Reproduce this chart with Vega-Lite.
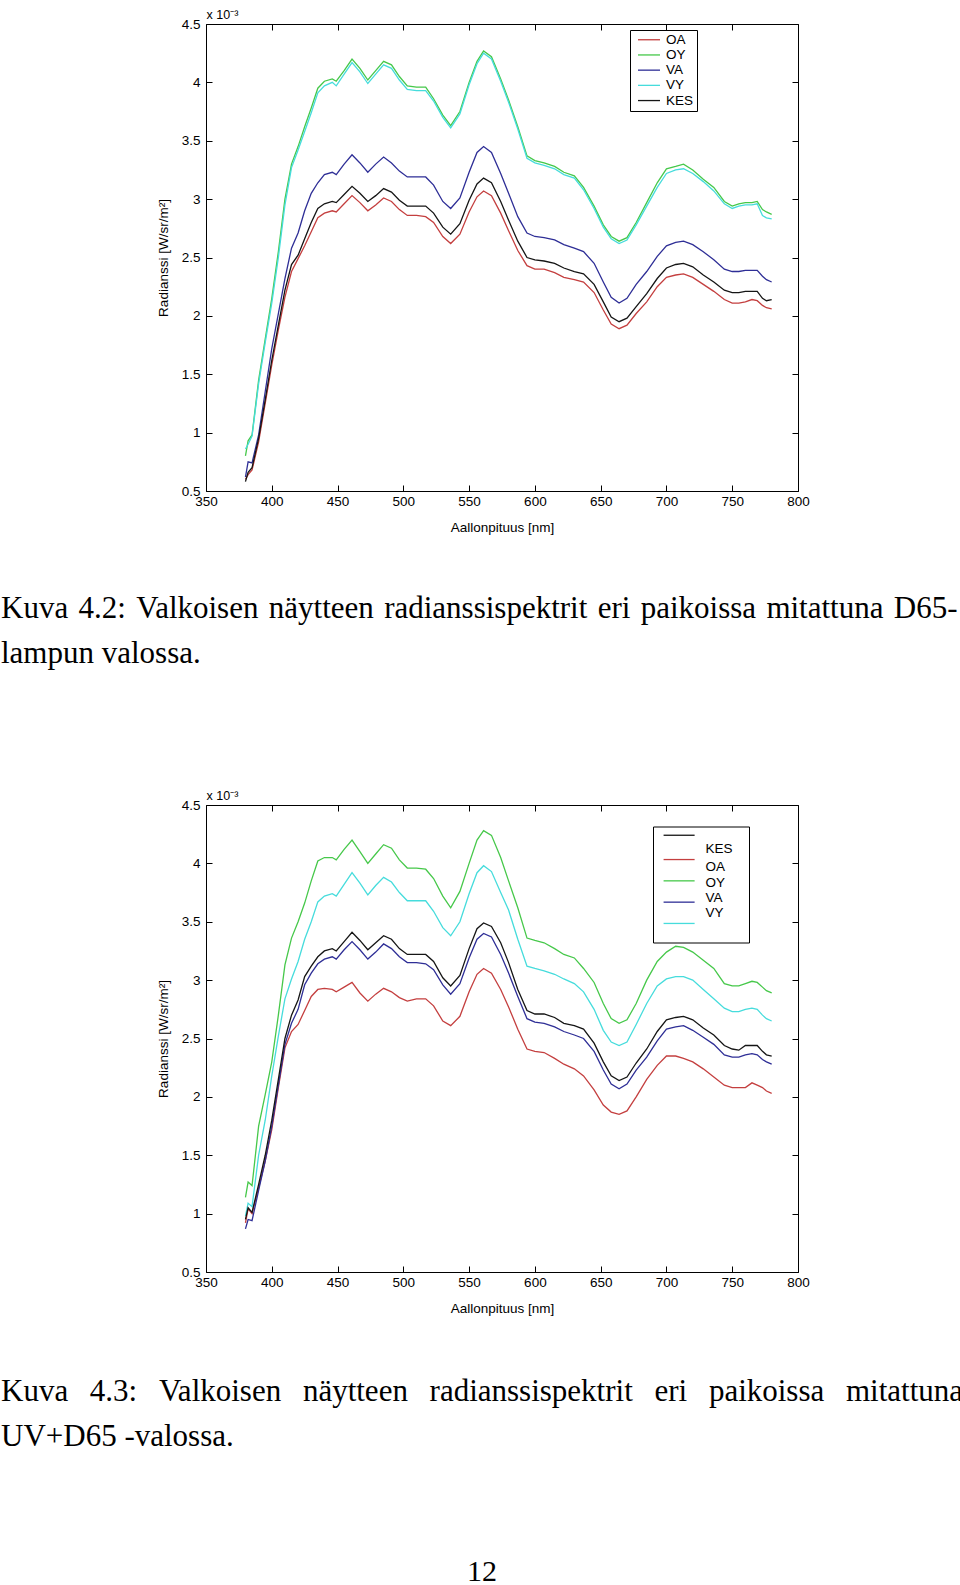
{
  "$schema": "https://vega.github.io/schema/vega-lite/v6.json",
  "background": "white",
  "padding": {"left": 0, "top": 7, "right": 0, "bottom": 0},
  "autosize": {"type": "pad"},
  "config": {
    "view": {"stroke": "black", "strokeWidth": 1},
    "axis": {"domain": false, "grid": false, "tickSize": -6, "tickColor": "black", "tickWidth": 1,
      "labelFont": "Liberation Sans", "labelFontSize": 13.5, "labelColor": "black", "labelFlush": false, "labelOverlap": false,
      "titleFont": "Liberation Sans", "titleFontSize": 13.5, "titleFontWeight": "normal", "titleColor": "black"},
    "legend": {"title": null, "labelFont": "Liberation Sans", "labelFontSize": 13.5, "labelColor": "black",
      "strokeColor": "black", "fillColor": "white", "symbolStrokeWidth": 1.3, "labelLimit": 0},
    "title": {"font": "Liberation Serif", "fontWeight": "normal", "color": "black", "fontSize": 31, "limit": 2000}
  },
  "title": {"text": "12", "orient": "bottom", "anchor": "middle", "frame": "bounds", "offset": 104, "fontSize": 30},
  "spacing": 314,
  "bounds": "flush",
  "resolve": {"scale": {"color": "independent"}},
  "datasets": {
    "c1": [
{"s":"OA","nm":380,"v":0.60},{"s":"OA","nm":382,"v":0.64},{"s":"OA","nm":385,"v":0.68},{"s":"OA","nm":390,"v":0.92},{"s":"OA","nm":395,"v":1.25},{"s":"OA","nm":400,"v":1.58},{"s":"OA","nm":405,"v":1.88},{"s":"OA","nm":410,"v":2.16},{"s":"OA","nm":415,"v":2.38},{"s":"OA","nm":420,"v":2.49},
{"s":"OA","nm":425,"v":2.60},{"s":"OA","nm":430,"v":2.72},{"s":"OA","nm":435,"v":2.84},{"s":"OA","nm":440,"v":2.88},{"s":"OA","nm":446,"v":2.90},{"s":"OA","nm":449,"v":2.89},{"s":"OA","nm":455,"v":2.96},{"s":"OA","nm":461,"v":3.03},{"s":"OA","nm":467,"v":2.97},{"s":"OA","nm":473,"v":2.90},
{"s":"OA","nm":479,"v":2.95},{"s":"OA","nm":485,"v":3.01},{"s":"OA","nm":491,"v":2.98},{"s":"OA","nm":497,"v":2.91},{"s":"OA","nm":503,"v":2.86},{"s":"OA","nm":510,"v":2.86},{"s":"OA","nm":517,"v":2.85},{"s":"OA","nm":523,"v":2.80},{"s":"OA","nm":530,"v":2.68},{"s":"OA","nm":536,"v":2.62},
{"s":"OA","nm":543,"v":2.70},{"s":"OA","nm":550,"v":2.89},{"s":"OA","nm":556,"v":3.02},{"s":"OA","nm":561,"v":3.07},{"s":"OA","nm":567,"v":3.03},{"s":"OA","nm":574,"v":2.88},{"s":"OA","nm":580,"v":2.73},{"s":"OA","nm":587,"v":2.56},{"s":"OA","nm":594,"v":2.43},{"s":"OA","nm":600,"v":2.40},
{"s":"OA","nm":607,"v":2.40},{"s":"OA","nm":615,"v":2.37},{"s":"OA","nm":622,"v":2.33},{"s":"OA","nm":630,"v":2.31},{"s":"OA","nm":637,"v":2.29},{"s":"OA","nm":645,"v":2.20},{"s":"OA","nm":652,"v":2.05},{"s":"OA","nm":658,"v":1.93},{"s":"OA","nm":664,"v":1.89},{"s":"OA","nm":670,"v":1.92},
{"s":"OA","nm":677,"v":2.02},{"s":"OA","nm":685,"v":2.12},{"s":"OA","nm":693,"v":2.25},{"s":"OA","nm":700,"v":2.33},{"s":"OA","nm":707,"v":2.35},{"s":"OA","nm":713,"v":2.36},{"s":"OA","nm":720,"v":2.33},{"s":"OA","nm":728,"v":2.27},{"s":"OA","nm":736,"v":2.21},{"s":"OA","nm":744,"v":2.14},
{"s":"OA","nm":750,"v":2.11},{"s":"OA","nm":755,"v":2.11},{"s":"OA","nm":760,"v":2.12},{"s":"OA","nm":765,"v":2.14},{"s":"OA","nm":769,"v":2.13},{"s":"OA","nm":773,"v":2.09},{"s":"OA","nm":776,"v":2.07},{"s":"OA","nm":780,"v":2.06},
{"s":"OY","nm":380,"v":0.80},{"s":"OY","nm":382,"v":0.93},{"s":"OY","nm":385,"v":0.98},{"s":"OY","nm":390,"v":1.45},{"s":"OY","nm":395,"v":1.80},{"s":"OY","nm":400,"v":2.15},{"s":"OY","nm":405,"v":2.55},{"s":"OY","nm":410,"v":3.00},{"s":"OY","nm":415,"v":3.30},{"s":"OY","nm":420,"v":3.45},
{"s":"OY","nm":425,"v":3.62},{"s":"OY","nm":430,"v":3.78},{"s":"OY","nm":435,"v":3.95},{"s":"OY","nm":440,"v":4.01},{"s":"OY","nm":446,"v":4.03},{"s":"OY","nm":449,"v":4.01},{"s":"OY","nm":455,"v":4.10},{"s":"OY","nm":461,"v":4.20},{"s":"OY","nm":467,"v":4.12},{"s":"OY","nm":473,"v":4.02},
{"s":"OY","nm":479,"v":4.10},{"s":"OY","nm":485,"v":4.18},{"s":"OY","nm":491,"v":4.15},{"s":"OY","nm":497,"v":4.05},{"s":"OY","nm":503,"v":3.97},{"s":"OY","nm":510,"v":3.96},{"s":"OY","nm":517,"v":3.96},{"s":"OY","nm":523,"v":3.86},{"s":"OY","nm":530,"v":3.72},{"s":"OY","nm":536,"v":3.63},
{"s":"OY","nm":543,"v":3.75},{"s":"OY","nm":550,"v":4.00},{"s":"OY","nm":556,"v":4.18},{"s":"OY","nm":561,"v":4.27},{"s":"OY","nm":567,"v":4.22},{"s":"OY","nm":574,"v":4.03},{"s":"OY","nm":580,"v":3.85},{"s":"OY","nm":587,"v":3.62},{"s":"OY","nm":594,"v":3.37},{"s":"OY","nm":600,"v":3.33},
{"s":"OY","nm":607,"v":3.31},{"s":"OY","nm":615,"v":3.28},{"s":"OY","nm":622,"v":3.23},{"s":"OY","nm":630,"v":3.20},{"s":"OY","nm":637,"v":3.10},{"s":"OY","nm":645,"v":2.94},{"s":"OY","nm":652,"v":2.78},{"s":"OY","nm":658,"v":2.68},{"s":"OY","nm":664,"v":2.64},{"s":"OY","nm":670,"v":2.67},
{"s":"OY","nm":677,"v":2.80},{"s":"OY","nm":685,"v":2.97},{"s":"OY","nm":693,"v":3.14},{"s":"OY","nm":700,"v":3.26},{"s":"OY","nm":707,"v":3.28},{"s":"OY","nm":713,"v":3.30},{"s":"OY","nm":720,"v":3.25},{"s":"OY","nm":728,"v":3.17},{"s":"OY","nm":736,"v":3.10},{"s":"OY","nm":744,"v":2.98},
{"s":"OY","nm":750,"v":2.94},{"s":"OY","nm":755,"v":2.96},{"s":"OY","nm":760,"v":2.97},{"s":"OY","nm":765,"v":2.97},{"s":"OY","nm":769,"v":2.98},{"s":"OY","nm":773,"v":2.91},{"s":"OY","nm":776,"v":2.89},{"s":"OY","nm":780,"v":2.87},
{"s":"VA","nm":380,"v":0.62},{"s":"VA","nm":382,"v":0.75},{"s":"VA","nm":385,"v":0.74},{"s":"VA","nm":390,"v":0.98},{"s":"VA","nm":395,"v":1.35},{"s":"VA","nm":400,"v":1.72},{"s":"VA","nm":405,"v":2.02},{"s":"VA","nm":410,"v":2.32},{"s":"VA","nm":415,"v":2.58},{"s":"VA","nm":420,"v":2.71},
{"s":"VA","nm":425,"v":2.90},{"s":"VA","nm":430,"v":3.05},{"s":"VA","nm":435,"v":3.14},{"s":"VA","nm":440,"v":3.21},{"s":"VA","nm":446,"v":3.23},{"s":"VA","nm":449,"v":3.21},{"s":"VA","nm":455,"v":3.30},{"s":"VA","nm":461,"v":3.38},{"s":"VA","nm":467,"v":3.31},{"s":"VA","nm":473,"v":3.23},
{"s":"VA","nm":479,"v":3.30},{"s":"VA","nm":485,"v":3.36},{"s":"VA","nm":491,"v":3.31},{"s":"VA","nm":497,"v":3.24},{"s":"VA","nm":503,"v":3.19},{"s":"VA","nm":510,"v":3.19},{"s":"VA","nm":517,"v":3.19},{"s":"VA","nm":523,"v":3.12},{"s":"VA","nm":530,"v":2.98},{"s":"VA","nm":536,"v":2.92},
{"s":"VA","nm":543,"v":3.01},{"s":"VA","nm":550,"v":3.23},{"s":"VA","nm":556,"v":3.40},{"s":"VA","nm":561,"v":3.45},{"s":"VA","nm":567,"v":3.40},{"s":"VA","nm":574,"v":3.22},{"s":"VA","nm":580,"v":3.05},{"s":"VA","nm":587,"v":2.85},{"s":"VA","nm":594,"v":2.71},{"s":"VA","nm":600,"v":2.68},
{"s":"VA","nm":607,"v":2.67},{"s":"VA","nm":615,"v":2.65},{"s":"VA","nm":622,"v":2.61},{"s":"VA","nm":630,"v":2.58},{"s":"VA","nm":637,"v":2.55},{"s":"VA","nm":645,"v":2.45},{"s":"VA","nm":652,"v":2.29},{"s":"VA","nm":658,"v":2.16},{"s":"VA","nm":664,"v":2.11},{"s":"VA","nm":670,"v":2.15},
{"s":"VA","nm":677,"v":2.27},{"s":"VA","nm":685,"v":2.38},{"s":"VA","nm":693,"v":2.51},{"s":"VA","nm":700,"v":2.60},{"s":"VA","nm":707,"v":2.63},{"s":"VA","nm":713,"v":2.64},{"s":"VA","nm":720,"v":2.61},{"s":"VA","nm":728,"v":2.55},{"s":"VA","nm":736,"v":2.48},{"s":"VA","nm":744,"v":2.40},
{"s":"VA","nm":750,"v":2.38},{"s":"VA","nm":755,"v":2.38},{"s":"VA","nm":760,"v":2.39},{"s":"VA","nm":765,"v":2.39},{"s":"VA","nm":769,"v":2.39},{"s":"VA","nm":773,"v":2.34},{"s":"VA","nm":776,"v":2.31},{"s":"VA","nm":780,"v":2.29},
{"s":"VY","nm":380,"v":0.86},{"s":"VY","nm":382,"v":0.90},{"s":"VY","nm":385,"v":0.97},{"s":"VY","nm":390,"v":1.42},{"s":"VY","nm":395,"v":1.77},{"s":"VY","nm":400,"v":2.11},{"s":"VY","nm":405,"v":2.50},{"s":"VY","nm":410,"v":2.95},{"s":"VY","nm":415,"v":3.27},{"s":"VY","nm":420,"v":3.42},
{"s":"VY","nm":425,"v":3.58},{"s":"VY","nm":430,"v":3.74},{"s":"VY","nm":435,"v":3.91},{"s":"VY","nm":440,"v":3.97},{"s":"VY","nm":446,"v":4.00},{"s":"VY","nm":449,"v":3.97},{"s":"VY","nm":455,"v":4.07},{"s":"VY","nm":461,"v":4.17},{"s":"VY","nm":467,"v":4.09},{"s":"VY","nm":473,"v":3.99},
{"s":"VY","nm":479,"v":4.07},{"s":"VY","nm":485,"v":4.15},{"s":"VY","nm":491,"v":4.12},{"s":"VY","nm":497,"v":4.02},{"s":"VY","nm":503,"v":3.94},{"s":"VY","nm":510,"v":3.93},{"s":"VY","nm":517,"v":3.93},{"s":"VY","nm":523,"v":3.84},{"s":"VY","nm":530,"v":3.70},{"s":"VY","nm":536,"v":3.61},
{"s":"VY","nm":543,"v":3.73},{"s":"VY","nm":550,"v":3.98},{"s":"VY","nm":556,"v":4.16},{"s":"VY","nm":561,"v":4.25},{"s":"VY","nm":567,"v":4.20},{"s":"VY","nm":574,"v":4.01},{"s":"VY","nm":580,"v":3.83},{"s":"VY","nm":587,"v":3.60},{"s":"VY","nm":594,"v":3.35},{"s":"VY","nm":600,"v":3.31},
{"s":"VY","nm":607,"v":3.29},{"s":"VY","nm":615,"v":3.26},{"s":"VY","nm":622,"v":3.21},{"s":"VY","nm":630,"v":3.18},{"s":"VY","nm":637,"v":3.08},{"s":"VY","nm":645,"v":2.92},{"s":"VY","nm":652,"v":2.76},{"s":"VY","nm":658,"v":2.66},{"s":"VY","nm":664,"v":2.62},{"s":"VY","nm":670,"v":2.65},
{"s":"VY","nm":677,"v":2.78},{"s":"VY","nm":685,"v":2.94},{"s":"VY","nm":693,"v":3.10},{"s":"VY","nm":700,"v":3.22},{"s":"VY","nm":707,"v":3.25},{"s":"VY","nm":713,"v":3.26},{"s":"VY","nm":720,"v":3.22},{"s":"VY","nm":728,"v":3.15},{"s":"VY","nm":736,"v":3.07},{"s":"VY","nm":744,"v":2.96},
{"s":"VY","nm":750,"v":2.92},{"s":"VY","nm":755,"v":2.94},{"s":"VY","nm":760,"v":2.95},{"s":"VY","nm":765,"v":2.95},{"s":"VY","nm":769,"v":2.96},{"s":"VY","nm":773,"v":2.86},{"s":"VY","nm":776,"v":2.84},{"s":"VY","nm":780,"v":2.83},
{"s":"KES","nm":380,"v":0.58},{"s":"KES","nm":382,"v":0.66},{"s":"KES","nm":385,"v":0.70},{"s":"KES","nm":390,"v":0.95},{"s":"KES","nm":395,"v":1.28},{"s":"KES","nm":400,"v":1.62},{"s":"KES","nm":405,"v":1.92},{"s":"KES","nm":410,"v":2.22},{"s":"KES","nm":415,"v":2.44},{"s":"KES","nm":420,"v":2.52},
{"s":"KES","nm":425,"v":2.66},{"s":"KES","nm":430,"v":2.80},{"s":"KES","nm":435,"v":2.92},{"s":"KES","nm":440,"v":2.96},{"s":"KES","nm":446,"v":2.98},{"s":"KES","nm":449,"v":2.97},{"s":"KES","nm":455,"v":3.04},{"s":"KES","nm":461,"v":3.11},{"s":"KES","nm":467,"v":3.05},{"s":"KES","nm":473,"v":2.98},
{"s":"KES","nm":479,"v":3.03},{"s":"KES","nm":485,"v":3.09},{"s":"KES","nm":491,"v":3.06},{"s":"KES","nm":497,"v":2.99},{"s":"KES","nm":503,"v":2.94},{"s":"KES","nm":510,"v":2.94},{"s":"KES","nm":517,"v":2.94},{"s":"KES","nm":523,"v":2.88},{"s":"KES","nm":530,"v":2.76},{"s":"KES","nm":536,"v":2.70},
{"s":"KES","nm":543,"v":2.79},{"s":"KES","nm":550,"v":2.99},{"s":"KES","nm":556,"v":3.13},{"s":"KES","nm":561,"v":3.18},{"s":"KES","nm":567,"v":3.14},{"s":"KES","nm":574,"v":2.98},{"s":"KES","nm":580,"v":2.82},{"s":"KES","nm":587,"v":2.64},{"s":"KES","nm":594,"v":2.50},{"s":"KES","nm":600,"v":2.48},
{"s":"KES","nm":607,"v":2.47},{"s":"KES","nm":615,"v":2.45},{"s":"KES","nm":622,"v":2.41},{"s":"KES","nm":630,"v":2.38},{"s":"KES","nm":637,"v":2.36},{"s":"KES","nm":645,"v":2.27},{"s":"KES","nm":652,"v":2.12},{"s":"KES","nm":658,"v":1.99},{"s":"KES","nm":664,"v":1.95},{"s":"KES","nm":670,"v":1.98},
{"s":"KES","nm":677,"v":2.08},{"s":"KES","nm":685,"v":2.19},{"s":"KES","nm":693,"v":2.32},{"s":"KES","nm":700,"v":2.41},{"s":"KES","nm":707,"v":2.44},{"s":"KES","nm":713,"v":2.45},{"s":"KES","nm":720,"v":2.42},{"s":"KES","nm":728,"v":2.35},{"s":"KES","nm":736,"v":2.29},{"s":"KES","nm":744,"v":2.22},
{"s":"KES","nm":750,"v":2.20},{"s":"KES","nm":755,"v":2.20},{"s":"KES","nm":760,"v":2.21},{"s":"KES","nm":765,"v":2.21},{"s":"KES","nm":769,"v":2.21},{"s":"KES","nm":773,"v":2.15},{"s":"KES","nm":776,"v":2.13},{"s":"KES","nm":780,"v":2.14}
    ],
    "c2": [
{"s":"OA","nm":380,"v":0.92},{"s":"OA","nm":382,"v":1.04},{"s":"OA","nm":385,"v":1.00},{"s":"OA","nm":390,"v":1.22},{"s":"OA","nm":395,"v":1.45},{"s":"OA","nm":400,"v":1.72},{"s":"OA","nm":405,"v":2.08},{"s":"OA","nm":410,"v":2.42},{"s":"OA","nm":415,"v":2.56},{"s":"OA","nm":420,"v":2.62},
{"s":"OA","nm":425,"v":2.74},{"s":"OA","nm":430,"v":2.86},{"s":"OA","nm":435,"v":2.92},{"s":"OA","nm":440,"v":2.93},{"s":"OA","nm":446,"v":2.92},{"s":"OA","nm":449,"v":2.90},{"s":"OA","nm":455,"v":2.94},{"s":"OA","nm":461,"v":2.98},{"s":"OA","nm":467,"v":2.89},{"s":"OA","nm":473,"v":2.82},
{"s":"OA","nm":479,"v":2.88},{"s":"OA","nm":485,"v":2.93},{"s":"OA","nm":491,"v":2.90},{"s":"OA","nm":497,"v":2.85},{"s":"OA","nm":503,"v":2.82},{"s":"OA","nm":510,"v":2.84},{"s":"OA","nm":517,"v":2.84},{"s":"OA","nm":523,"v":2.78},{"s":"OA","nm":530,"v":2.65},{"s":"OA","nm":536,"v":2.61},
{"s":"OA","nm":543,"v":2.69},{"s":"OA","nm":550,"v":2.90},{"s":"OA","nm":556,"v":3.05},{"s":"OA","nm":561,"v":3.10},{"s":"OA","nm":567,"v":3.06},{"s":"OA","nm":574,"v":2.92},{"s":"OA","nm":580,"v":2.77},{"s":"OA","nm":587,"v":2.58},{"s":"OA","nm":594,"v":2.41},{"s":"OA","nm":600,"v":2.39},
{"s":"OA","nm":607,"v":2.38},{"s":"OA","nm":615,"v":2.33},{"s":"OA","nm":622,"v":2.28},{"s":"OA","nm":630,"v":2.24},{"s":"OA","nm":637,"v":2.18},{"s":"OA","nm":645,"v":2.06},{"s":"OA","nm":652,"v":1.93},{"s":"OA","nm":658,"v":1.87},{"s":"OA","nm":664,"v":1.85},{"s":"OA","nm":670,"v":1.88},
{"s":"OA","nm":677,"v":2.00},{"s":"OA","nm":685,"v":2.15},{"s":"OA","nm":693,"v":2.27},{"s":"OA","nm":700,"v":2.35},{"s":"OA","nm":707,"v":2.35},{"s":"OA","nm":713,"v":2.33},{"s":"OA","nm":720,"v":2.30},{"s":"OA","nm":728,"v":2.24},{"s":"OA","nm":736,"v":2.17},{"s":"OA","nm":744,"v":2.10},
{"s":"OA","nm":750,"v":2.08},{"s":"OA","nm":755,"v":2.08},{"s":"OA","nm":760,"v":2.08},{"s":"OA","nm":765,"v":2.12},{"s":"OA","nm":769,"v":2.10},{"s":"OA","nm":773,"v":2.08},{"s":"OA","nm":776,"v":2.05},{"s":"OA","nm":780,"v":2.03},
{"s":"OY","nm":380,"v":1.14},{"s":"OY","nm":382,"v":1.27},{"s":"OY","nm":385,"v":1.24},{"s":"OY","nm":390,"v":1.75},{"s":"OY","nm":395,"v":2.02},{"s":"OY","nm":400,"v":2.30},{"s":"OY","nm":405,"v":2.70},{"s":"OY","nm":410,"v":3.13},{"s":"OY","nm":415,"v":3.36},{"s":"OY","nm":420,"v":3.50},
{"s":"OY","nm":425,"v":3.66},{"s":"OY","nm":430,"v":3.85},{"s":"OY","nm":435,"v":4.02},{"s":"OY","nm":440,"v":4.05},{"s":"OY","nm":446,"v":4.05},{"s":"OY","nm":449,"v":4.03},{"s":"OY","nm":455,"v":4.12},{"s":"OY","nm":461,"v":4.20},{"s":"OY","nm":467,"v":4.10},{"s":"OY","nm":473,"v":4.00},
{"s":"OY","nm":479,"v":4.08},{"s":"OY","nm":485,"v":4.16},{"s":"OY","nm":491,"v":4.13},{"s":"OY","nm":497,"v":4.03},{"s":"OY","nm":503,"v":3.96},{"s":"OY","nm":510,"v":3.96},{"s":"OY","nm":517,"v":3.95},{"s":"OY","nm":523,"v":3.87},{"s":"OY","nm":530,"v":3.72},{"s":"OY","nm":536,"v":3.62},
{"s":"OY","nm":543,"v":3.76},{"s":"OY","nm":550,"v":4.00},{"s":"OY","nm":556,"v":4.20},{"s":"OY","nm":561,"v":4.28},{"s":"OY","nm":567,"v":4.24},{"s":"OY","nm":574,"v":4.05},{"s":"OY","nm":580,"v":3.85},{"s":"OY","nm":587,"v":3.62},{"s":"OY","nm":594,"v":3.36},{"s":"OY","nm":600,"v":3.34},
{"s":"OY","nm":607,"v":3.32},{"s":"OY","nm":615,"v":3.27},{"s":"OY","nm":622,"v":3.22},{"s":"OY","nm":630,"v":3.19},{"s":"OY","nm":637,"v":3.10},{"s":"OY","nm":645,"v":2.98},{"s":"OY","nm":652,"v":2.80},{"s":"OY","nm":658,"v":2.67},{"s":"OY","nm":664,"v":2.63},{"s":"OY","nm":670,"v":2.66},
{"s":"OY","nm":677,"v":2.80},{"s":"OY","nm":685,"v":3.00},{"s":"OY","nm":693,"v":3.16},{"s":"OY","nm":700,"v":3.24},{"s":"OY","nm":707,"v":3.29},{"s":"OY","nm":713,"v":3.28},{"s":"OY","nm":720,"v":3.24},{"s":"OY","nm":728,"v":3.17},{"s":"OY","nm":736,"v":3.10},{"s":"OY","nm":744,"v":2.97},
{"s":"OY","nm":750,"v":2.95},{"s":"OY","nm":755,"v":2.95},{"s":"OY","nm":760,"v":2.97},{"s":"OY","nm":765,"v":2.99},{"s":"OY","nm":769,"v":2.98},{"s":"OY","nm":773,"v":2.94},{"s":"OY","nm":776,"v":2.91},{"s":"OY","nm":780,"v":2.89},
{"s":"VA","nm":380,"v":0.87},{"s":"VA","nm":382,"v":0.95},{"s":"VA","nm":385,"v":0.94},{"s":"VA","nm":390,"v":1.20},{"s":"VA","nm":395,"v":1.45},{"s":"VA","nm":400,"v":1.75},{"s":"VA","nm":405,"v":2.10},{"s":"VA","nm":410,"v":2.45},{"s":"VA","nm":415,"v":2.63},{"s":"VA","nm":420,"v":2.75},
{"s":"VA","nm":425,"v":2.96},{"s":"VA","nm":430,"v":3.06},{"s":"VA","nm":435,"v":3.14},{"s":"VA","nm":440,"v":3.18},{"s":"VA","nm":446,"v":3.20},{"s":"VA","nm":449,"v":3.18},{"s":"VA","nm":455,"v":3.26},{"s":"VA","nm":461,"v":3.33},{"s":"VA","nm":467,"v":3.26},{"s":"VA","nm":473,"v":3.18},
{"s":"VA","nm":479,"v":3.24},{"s":"VA","nm":485,"v":3.31},{"s":"VA","nm":491,"v":3.27},{"s":"VA","nm":497,"v":3.20},{"s":"VA","nm":503,"v":3.15},{"s":"VA","nm":510,"v":3.15},{"s":"VA","nm":517,"v":3.14},{"s":"VA","nm":523,"v":3.09},{"s":"VA","nm":530,"v":2.96},{"s":"VA","nm":536,"v":2.88},
{"s":"VA","nm":543,"v":2.97},{"s":"VA","nm":550,"v":3.19},{"s":"VA","nm":556,"v":3.35},{"s":"VA","nm":561,"v":3.40},{"s":"VA","nm":567,"v":3.37},{"s":"VA","nm":574,"v":3.22},{"s":"VA","nm":580,"v":3.06},{"s":"VA","nm":587,"v":2.86},{"s":"VA","nm":594,"v":2.67},{"s":"VA","nm":600,"v":2.64},
{"s":"VA","nm":607,"v":2.63},{"s":"VA","nm":615,"v":2.60},{"s":"VA","nm":622,"v":2.56},{"s":"VA","nm":630,"v":2.53},{"s":"VA","nm":637,"v":2.50},{"s":"VA","nm":645,"v":2.39},{"s":"VA","nm":652,"v":2.23},{"s":"VA","nm":658,"v":2.11},{"s":"VA","nm":664,"v":2.07},{"s":"VA","nm":670,"v":2.11},
{"s":"VA","nm":677,"v":2.23},{"s":"VA","nm":685,"v":2.34},{"s":"VA","nm":693,"v":2.48},{"s":"VA","nm":700,"v":2.58},{"s":"VA","nm":707,"v":2.60},{"s":"VA","nm":713,"v":2.61},{"s":"VA","nm":720,"v":2.57},{"s":"VA","nm":728,"v":2.51},{"s":"VA","nm":736,"v":2.45},{"s":"VA","nm":744,"v":2.36},
{"s":"VA","nm":750,"v":2.34},{"s":"VA","nm":755,"v":2.34},{"s":"VA","nm":760,"v":2.36},{"s":"VA","nm":765,"v":2.37},{"s":"VA","nm":769,"v":2.36},{"s":"VA","nm":773,"v":2.32},{"s":"VA","nm":776,"v":2.30},{"s":"VA","nm":780,"v":2.28},
{"s":"VY","nm":380,"v":0.98},{"s":"VY","nm":382,"v":1.09},{"s":"VY","nm":385,"v":1.06},{"s":"VY","nm":390,"v":1.50},{"s":"VY","nm":395,"v":1.80},{"s":"VY","nm":400,"v":2.18},{"s":"VY","nm":405,"v":2.52},{"s":"VY","nm":410,"v":2.84},{"s":"VY","nm":415,"v":3.01},{"s":"VY","nm":420,"v":3.16},
{"s":"VY","nm":425,"v":3.35},{"s":"VY","nm":430,"v":3.50},{"s":"VY","nm":435,"v":3.67},{"s":"VY","nm":440,"v":3.72},{"s":"VY","nm":446,"v":3.74},{"s":"VY","nm":449,"v":3.72},{"s":"VY","nm":455,"v":3.82},{"s":"VY","nm":461,"v":3.92},{"s":"VY","nm":467,"v":3.83},{"s":"VY","nm":473,"v":3.73},
{"s":"VY","nm":479,"v":3.81},{"s":"VY","nm":485,"v":3.88},{"s":"VY","nm":491,"v":3.84},{"s":"VY","nm":497,"v":3.75},{"s":"VY","nm":503,"v":3.68},{"s":"VY","nm":510,"v":3.68},{"s":"VY","nm":517,"v":3.68},{"s":"VY","nm":523,"v":3.59},{"s":"VY","nm":530,"v":3.45},{"s":"VY","nm":536,"v":3.38},
{"s":"VY","nm":543,"v":3.50},{"s":"VY","nm":550,"v":3.74},{"s":"VY","nm":556,"v":3.92},{"s":"VY","nm":561,"v":3.98},{"s":"VY","nm":567,"v":3.93},{"s":"VY","nm":574,"v":3.75},{"s":"VY","nm":580,"v":3.60},{"s":"VY","nm":587,"v":3.35},{"s":"VY","nm":594,"v":3.12},{"s":"VY","nm":600,"v":3.10},
{"s":"VY","nm":607,"v":3.08},{"s":"VY","nm":615,"v":3.05},{"s":"VY","nm":622,"v":3.01},{"s":"VY","nm":630,"v":2.97},{"s":"VY","nm":637,"v":2.90},{"s":"VY","nm":645,"v":2.75},{"s":"VY","nm":652,"v":2.57},{"s":"VY","nm":658,"v":2.47},{"s":"VY","nm":664,"v":2.44},{"s":"VY","nm":670,"v":2.47},
{"s":"VY","nm":677,"v":2.62},{"s":"VY","nm":685,"v":2.80},{"s":"VY","nm":693,"v":2.95},{"s":"VY","nm":700,"v":3.01},{"s":"VY","nm":707,"v":3.03},{"s":"VY","nm":713,"v":3.03},{"s":"VY","nm":720,"v":3.00},{"s":"VY","nm":728,"v":2.92},{"s":"VY","nm":736,"v":2.84},{"s":"VY","nm":744,"v":2.76},
{"s":"VY","nm":750,"v":2.73},{"s":"VY","nm":755,"v":2.73},{"s":"VY","nm":760,"v":2.75},{"s":"VY","nm":765,"v":2.76},{"s":"VY","nm":769,"v":2.75},{"s":"VY","nm":773,"v":2.70},{"s":"VY","nm":776,"v":2.67},{"s":"VY","nm":780,"v":2.65},
{"s":"KES","nm":380,"v":0.95},{"s":"KES","nm":382,"v":1.05},{"s":"KES","nm":385,"v":1.01},{"s":"KES","nm":390,"v":1.25},{"s":"KES","nm":395,"v":1.50},{"s":"KES","nm":400,"v":1.80},{"s":"KES","nm":405,"v":2.15},{"s":"KES","nm":410,"v":2.50},{"s":"KES","nm":415,"v":2.70},{"s":"KES","nm":420,"v":2.83},
{"s":"KES","nm":425,"v":3.03},{"s":"KES","nm":430,"v":3.12},{"s":"KES","nm":435,"v":3.20},{"s":"KES","nm":440,"v":3.25},{"s":"KES","nm":446,"v":3.27},{"s":"KES","nm":449,"v":3.25},{"s":"KES","nm":455,"v":3.33},{"s":"KES","nm":461,"v":3.41},{"s":"KES","nm":467,"v":3.34},{"s":"KES","nm":473,"v":3.26},
{"s":"KES","nm":479,"v":3.32},{"s":"KES","nm":485,"v":3.38},{"s":"KES","nm":491,"v":3.35},{"s":"KES","nm":497,"v":3.27},{"s":"KES","nm":503,"v":3.22},{"s":"KES","nm":510,"v":3.22},{"s":"KES","nm":517,"v":3.22},{"s":"KES","nm":523,"v":3.16},{"s":"KES","nm":530,"v":3.02},{"s":"KES","nm":536,"v":2.95},
{"s":"KES","nm":543,"v":3.04},{"s":"KES","nm":550,"v":3.27},{"s":"KES","nm":556,"v":3.44},{"s":"KES","nm":561,"v":3.49},{"s":"KES","nm":567,"v":3.46},{"s":"KES","nm":574,"v":3.32},{"s":"KES","nm":580,"v":3.15},{"s":"KES","nm":587,"v":2.92},{"s":"KES","nm":594,"v":2.74},{"s":"KES","nm":600,"v":2.71},
{"s":"KES","nm":607,"v":2.71},{"s":"KES","nm":615,"v":2.68},{"s":"KES","nm":622,"v":2.63},{"s":"KES","nm":630,"v":2.61},{"s":"KES","nm":637,"v":2.58},{"s":"KES","nm":645,"v":2.46},{"s":"KES","nm":652,"v":2.30},{"s":"KES","nm":658,"v":2.18},{"s":"KES","nm":664,"v":2.14},{"s":"KES","nm":670,"v":2.17},
{"s":"KES","nm":677,"v":2.29},{"s":"KES","nm":685,"v":2.41},{"s":"KES","nm":693,"v":2.56},{"s":"KES","nm":700,"v":2.66},{"s":"KES","nm":707,"v":2.68},{"s":"KES","nm":713,"v":2.69},{"s":"KES","nm":720,"v":2.66},{"s":"KES","nm":728,"v":2.59},{"s":"KES","nm":736,"v":2.53},{"s":"KES","nm":744,"v":2.44},
{"s":"KES","nm":750,"v":2.41},{"s":"KES","nm":755,"v":2.40},{"s":"KES","nm":760,"v":2.44},{"s":"KES","nm":765,"v":2.44},{"s":"KES","nm":769,"v":2.44},{"s":"KES","nm":773,"v":2.39},{"s":"KES","nm":776,"v":2.36},{"s":"KES","nm":780,"v":2.35}
    ]
  },
  "vconcat": [
    {
      "width": 592, "height": 467,
      "data": {"name": "c1"},
      "title": {"text": ["Kuva\u20044.2:\u2004Valkoisen\u2004näytteen\u2004radianssispektrit\u2004eri\u2004paikoissa\u2004mitattuna\u2004D65-", "lampun valossa."],
        "orient": "bottom", "anchor": "start", "frame": "group", "dx": -205, "offset": 60, "lineHeight": 44.5, "align": "left"},
      "layer": [
        {
          "mark": {"type": "line", "strokeWidth": 1.3},
          "encoding": {
            "x": {"field": "nm", "type": "quantitative", "scale": {"domain": [350, 800], "nice": false, "zero": false},
              "axis": {"orient": "bottom", "values": [350,400,450,500,550,600,650,700,750,800], "title": "Aallonpituus [nm]", "labelPadding": 9, "titlePadding": 13}},
            "y": {"field": "v", "type": "quantitative", "scale": {"domain": [0.5, 4.5], "nice": false, "zero": false},
              "axis": {"orient": "left", "values": [0.5,1,1.5,2,2.5,3,3.5,4,4.5], "format": "~g", "title": "Radianssi [W/sr/m²]", "labelPadding": 12, "titlePadding": 11}},
            "color": {"field": "s", "type": "nominal",
              "scale": {"domain": ["OA","OY","VA","VY","KES"], "range": ["#c43f3f","#46c84a","#2e2e96","#46dcdc","#151515"]},
              "legend": {"orient": "none", "legendX": 424, "legendY": 6, "padding": 3, "symbolType": "M-2,0H2", "symbolSize": 121,
                "symbolOffset": 9.25, "labelOffset": 10.25, "rowPadding": 0.2}}
          }
        },
        {
          "mark": {"type": "point", "opacity": 0},
          "encoding": {
            "x": {"field": "nm", "type": "quantitative",
              "axis": {"orient": "top", "values": [350,400,450,500,550,600,650,700,750,800], "labels": false,
                "title": "x 10⁻³", "titleX": 0, "titleY": -6, "titleAlign": "left", "titleAngle": 0, "titleBaseline": "alphabetic", "titleFontSize": 12.5}},
            "y": {"field": "v", "type": "quantitative",
              "axis": {"orient": "right", "values": [0.5,1,1.5,2,2.5,3,3.5,4,4.5], "labels": false, "title": null}}
          }
        }
      ],
      "resolve": {"axis": {"x": "independent", "y": "independent"}}
    },
    {
      "width": 592, "height": 467,
      "data": {"name": "c2"},
      "title": {"text": ["Kuva\u2002\u20094.3:\u2002\u2009Valkoisen\u2002\u2009näytteen\u2002\u2009radianssispektrit\u2002\u2009eri\u2002\u2009paikoissa\u2002\u2009mitattuna", "UV+D65 -valossa."],
        "orient": "bottom", "anchor": "start", "frame": "group", "dx": -205, "offset": 62, "lineHeight": 45, "align": "left"},
      "layer": [
        {
          "mark": {"type": "line", "strokeWidth": 1.3},
          "encoding": {
            "x": {"field": "nm", "type": "quantitative", "scale": {"domain": [350, 800], "nice": false, "zero": false},
              "axis": {"orient": "bottom", "values": [350,400,450,500,550,600,650,700,750,800], "title": "Aallonpituus [nm]", "labelPadding": 9, "titlePadding": 13}},
            "y": {"field": "v", "type": "quantitative", "scale": {"domain": [0.5, 4.5], "nice": false, "zero": false},
              "axis": {"orient": "left", "values": [0.5,1,1.5,2,2.5,3,3.5,4,4.5], "format": "~g", "title": "Radianssi [W/sr/m²]", "labelPadding": 12, "titlePadding": 11}},
            "color": {"field": "s", "type": "nominal",
              "scale": {"domain": ["KES","OA","OY","VA","VY"], "range": ["#151515","#c43f3f","#46c84a","#2e2e96","#46dcdc"]},
              "legend": {"orient": "none", "legendX": 447, "legendY": 21.5, "padding": 16, "symbolType": "M-3,0H3", "symbolSize": 107,
                "symbolOffset": 3.35, "labelOffset": 19.75, "rowPadding": 0.2,
                "encode": {"symbols": {"update": {"y": {"signal": "datum.index * 6.1 - 7.25"}}}}}}
          }
        },
        {
          "mark": {"type": "point", "opacity": 0},
          "encoding": {
            "x": {"field": "nm", "type": "quantitative",
              "axis": {"orient": "top", "values": [350,400,450,500,550,600,650,700,750,800], "labels": false,
                "title": "x 10⁻³", "titleX": 0, "titleY": -6, "titleAlign": "left", "titleAngle": 0, "titleBaseline": "alphabetic", "titleFontSize": 12.5}},
            "y": {"field": "v", "type": "quantitative",
              "axis": {"orient": "right", "values": [0.5,1,1.5,2,2.5,3,3.5,4,4.5], "labels": false, "title": null}}
          }
        }
      ],
      "resolve": {"axis": {"x": "independent", "y": "independent"}}
    }
  ]
}
